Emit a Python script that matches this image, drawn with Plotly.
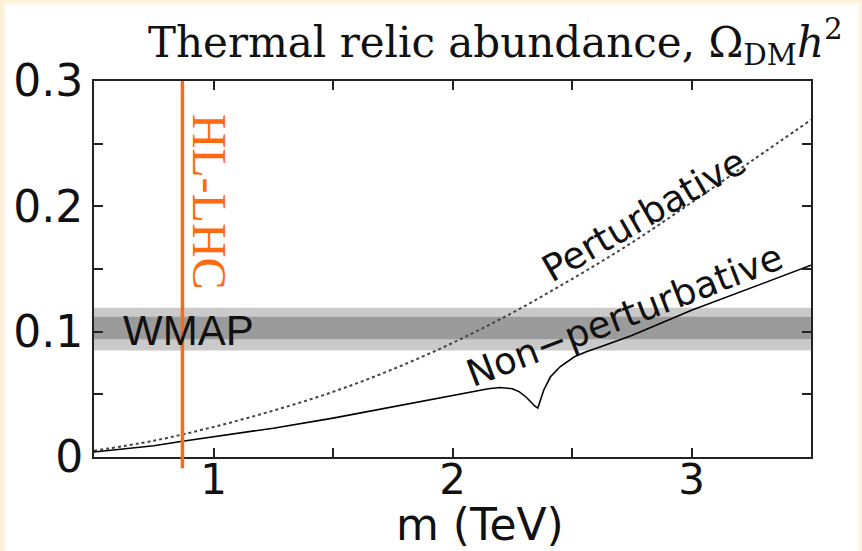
import plotly.graph_objects as go

# ---- data ----
mass_pert = [0.5, 0.75, 1.0, 1.25, 1.5, 1.75, 2.0, 2.25, 2.5, 2.75, 3.0, 3.25, 3.5]
omega_pert = [0.005, 0.013, 0.024, 0.037, 0.052, 0.070, 0.091, 0.115, 0.142, 0.171, 0.203, 0.236, 0.269]

mass_nonpert = [0.5, 0.6, 0.75, 0.87, 1.0, 1.25, 1.5, 1.75, 2.0, 2.1, 2.15, 2.2, 2.25, 2.28,
                2.31, 2.33, 2.345, 2.357, 2.368, 2.382, 2.41, 2.45, 2.51, 2.56, 2.62, 2.75,
                3.0, 3.25, 3.5]
omega_nonpert = [0.004, 0.0058, 0.009, 0.0125, 0.016, 0.023, 0.031, 0.040, 0.049, 0.0525, 0.0545,
                 0.0555, 0.0545, 0.052, 0.0475, 0.0435, 0.0405, 0.039, 0.0455, 0.0535, 0.064,
                 0.072, 0.080, 0.084, 0.088, 0.097, 0.117, 0.135, 0.153]

wmap_outer = [0.085, 0.119]
wmap_inner = [0.094, 0.112]
hl_lhc_mass = 0.87

x_range = [0.5, 3.5]
y_range = [0, 0.3]
x_tickvals = [1, 1.5, 2, 2.5, 3]
x_ticktext = ["1", "", "2", "", "3"]
y_tickvals = [0, 0.05, 0.1, 0.15, 0.2, 0.25, 0.3]
y_ticktext = ["0", "", "0.1", "", "0.2", "", "0.3"]

# plot-area geometry in pixels
L, R, T, B = 93.5, 811, 81, 457
W, H = 862, 551
PW, PH = R - L, B - T


def px_x(p):
    return (p - L) / PW


def px_y(p):
    return (B - p) / PH


fig = go.Figure()

fig.add_trace(go.Scatter(x=mass_pert, y=omega_pert, mode="lines", line_shape="spline",
                         line=dict(color="#444444", width=2, dash="dot"), showlegend=False,
                         hoverinfo="skip"))
fig.add_trace(go.Scatter(x=mass_nonpert, y=omega_nonpert, mode="lines",
                         line=dict(color="#000000", width=1.6), showlegend=False,
                         hoverinfo="skip"))

# background glow (slide-like cream border with white card)
bg_shapes = []
for i, op in enumerate([0.3, 0.55, 1.0]):
    pad = 6 - 2 * i
    bg_shapes.append(dict(type="rect", xref="paper", yref="paper", layer="below",
                          x0=px_x(8 - pad), x1=px_x(855 + pad),
                          y0=px_y(560), y1=px_y(7 - pad),
                          fillcolor="white", opacity=op, line=dict(width=0)))

shapes = bg_shapes + [
    dict(type="rect", xref="x domain", yref="y", x0=0, x1=1, y0=wmap_outer[0], y1=wmap_outer[1],
         fillcolor="#CACACA", line=dict(width=0), layer="below"),
    dict(type="rect", xref="x domain", yref="y", x0=0, x1=1, y0=wmap_inner[0], y1=wmap_inner[1],
         fillcolor="#9B9B9B", line=dict(width=0), layer="below"),
    dict(type="line", xref="x", yref="paper", x0=hl_lhc_mass, x1=hl_lhc_mass, y0=-0.03, y1=1,
         line=dict(color="#FF6A10", width=3.5), layer="above"),
]

annotations = [
    dict(text="WMAP", x=0.611, y=0.101, xref="x", yref="y", xanchor="left", yanchor="middle",
         showarrow=False, font=dict(family="Liberation Sans, Arial", size=42, color="#111111")),
    dict(text="Perturbative", x=2.80, y=0.193, xref="x", yref="y", textangle=-30,
         showarrow=False, font=dict(family="DejaVu Sans", size=37, color="#111111")),
    dict(text="Non\u2212perturbative", x=2.72, y=0.113, xref="x", yref="y", textangle=-21,
         showarrow=False, font=dict(family="DejaVu Sans", size=37, color="#111111")),
    dict(text="HL-LHC", x=0.984, y=0.204, xref="x", yref="y", textangle=90,
         showarrow=False, font=dict(family="Liberation Serif, Times New Roman", size=48,
                                    color="#FF6A10")),
    dict(text="m (TeV)", x=px_x(480), y=px_y(524), xref="paper", yref="paper",
         xanchor="center", yanchor="middle", showarrow=False,
         font=dict(family="DejaVu Sans", size=44, color="#111111")),
    dict(text="Thermal relic abundance, \u03a9<sub>DM</sub><i>h</i><sup>2</sup>",
         x=px_x(495), y=px_y(42), xref="paper", yref="paper",
         xanchor="center", yanchor="middle", showarrow=False,
         font=dict(family="DejaVu Serif", size=42, color="#111111")),
]

axis_common = dict(showline=True, linecolor="#222222", linewidth=2, mirror="ticks",
                   ticks="inside", ticklen=9, tickwidth=1.5, tickcolor="#222222",
                   showgrid=False, zeroline=False, automargin=False)

fig.update_layout(
    width=W, height=H,
    margin=dict(l=L, r=W - R, t=T, b=H - B, autoexpand=False),
    paper_bgcolor="#FBEFD6",
    plot_bgcolor="white",
    shapes=shapes,
    annotations=annotations,
    hovermode=False,
    xaxis=dict(range=x_range, tickvals=x_tickvals, ticktext=x_ticktext,
               tickfont=dict(family="DejaVu Sans", size=42, color="#111111"),
               ticklabelstandoff=-15,
               **axis_common),
    yaxis=dict(range=y_range, tickvals=y_tickvals, ticktext=y_ticktext,
               tickfont=dict(family="DejaVu Sans", size=44, color="#111111"),
               **axis_common),
)

fig.write_html("out.html", config={"displayModeBar": False},
               post_script="document.body.style.margin='0';document.body.style.overflow='hidden';")
